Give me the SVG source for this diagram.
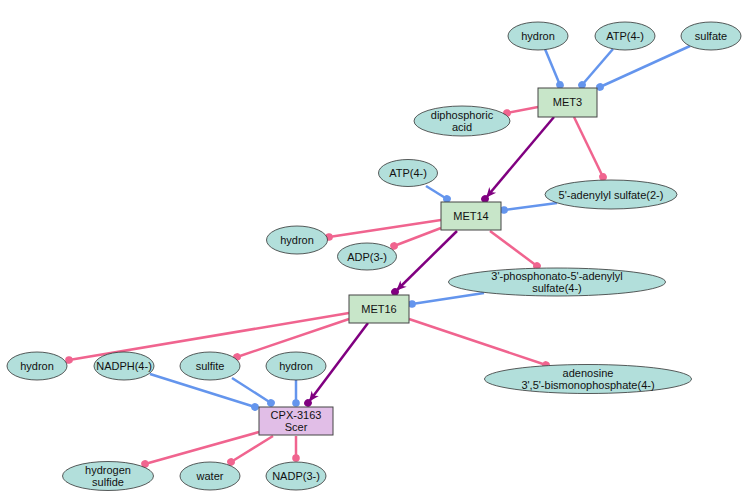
<svg xmlns="http://www.w3.org/2000/svg" width="749" height="502" viewBox="0 0 749 502">
<defs>
<style>
.n ellipse{fill:#b2dfdb;stroke:#333;stroke-width:0.8}
.r rect{fill:#c8e6c9;stroke:#444;stroke-width:1}
.c rect{fill:#e1bee7;stroke:#444;stroke-width:1}
text{font-family:"Liberation Sans",Arial,sans-serif;font-size:11px;fill:#111;text-anchor:middle}
.e line{stroke-width:2.5;fill:none}
.b{stroke:#6495ed;marker-end:url(#db)}
.p{stroke:#f0648f;marker-end:url(#dp)}
.u{stroke:#800080;marker-end:url(#au)}
</style>
<marker id="db" markerUnits="userSpaceOnUse" viewBox="-5 -5 10 10" markerWidth="10" markerHeight="10" refX="0" refY="0" orient="auto"><circle r="3.8" fill="#6495ed"/></marker>
<marker id="dp" markerUnits="userSpaceOnUse" viewBox="-5 -5 10 10" markerWidth="10" markerHeight="10" refX="0" refY="0" orient="auto"><circle r="3.8" fill="#f0648f"/></marker>
<marker id="au" markerUnits="userSpaceOnUse" viewBox="-14 -6 20 12" markerWidth="20" markerHeight="12" refX="0" refY="0" orient="auto"><circle r="3.8" fill="#800080"/><path d="M-2,0 L-12,-4.5 L-9,0 L-12,4.5 Z" fill="#800080"/></marker>
</defs>
<rect width="749" height="502" fill="#fff"/>
<g id="edges" class="e">
<line class="b" x1="545" y1="49" x2="560" y2="85"/>
<line class="b" x1="613" y1="49" x2="582" y2="85"/>
<line class="b" x1="690" y1="46" x2="600" y2="87"/>
<line class="p" x1="538" y1="107" x2="507" y2="113"/>
<line class="p" x1="574" y1="117" x2="603" y2="177"/>
<line class="u" x1="554" y1="117" x2="485" y2="199"/>
<line class="b" x1="426" y1="186" x2="447" y2="199"/>
<line class="b" x1="557" y1="203" x2="504" y2="210"/>
<line class="p" x1="441" y1="220" x2="329" y2="237"/>
<line class="p" x1="441" y1="228" x2="394" y2="246"/>
<line class="p" x1="490" y1="231" x2="537" y2="266"/>
<line class="u" x1="457" y1="231" x2="395" y2="292"/>
<line class="b" x1="484" y1="293" x2="412" y2="304"/>
<line class="p" x1="349" y1="313" x2="69" y2="360"/>
<line class="p" x1="349" y1="319" x2="237" y2="357"/>
<line class="p" x1="409" y1="319" x2="546" y2="365"/>
<line class="u" x1="368" y1="323" x2="308" y2="403"/>
<line class="b" x1="150" y1="374" x2="255" y2="407"/>
<line class="b" x1="232" y1="378" x2="271" y2="403"/>
<line class="b" x1="296" y1="379" x2="296" y2="403"/>
<line class="p" x1="259" y1="432" x2="145" y2="464"/>
<line class="p" x1="273" y1="436" x2="231" y2="462"/>
<line class="p" x1="296" y1="436" x2="296" y2="458"/>
</g>
<g id="hydron1" class="n"><ellipse cx="538" cy="36" rx="30" ry="14"/><text x="538" y="40">hydron</text></g>
<g id="atp1" class="n"><ellipse cx="625" cy="36" rx="30" ry="14"/><text x="625" y="40">ATP(4-)</text></g>
<g id="sulfate" class="n"><ellipse cx="711" cy="36" rx="30" ry="14"/><text x="711" y="40">sulfate</text></g>
<g id="met3" class="r"><rect x="538" y="88" width="59" height="29"/><text x="567.5" y="106">MET3</text></g>
<g id="diphosphoric" class="n"><ellipse cx="462" cy="121" rx="48" ry="15"/><text x="462" y="119">diphosphoric</text><text x="462" y="131">acid</text></g>
<g id="aps" class="n"><ellipse cx="611" cy="194.5" rx="66" ry="14.5"/><text x="611" y="198.5">5'-adenylyl sulfate(2-)</text></g>
<g id="atp2" class="n"><ellipse cx="408" cy="173" rx="29.5" ry="13.5"/><text x="408" y="177">ATP(4-)</text></g>
<g id="met14" class="r"><rect x="441" y="202" width="60" height="28"/><text x="471" y="220">MET14</text></g>
<g id="hydron2" class="n"><ellipse cx="297" cy="240" rx="30.5" ry="14"/><text x="297" y="244">hydron</text></g>
<g id="adp" class="n"><ellipse cx="367" cy="256.5" rx="29.5" ry="13.5"/><text x="367" y="260.5">ADP(3-)</text></g>
<g id="paps" class="n"><ellipse cx="557" cy="282" rx="108.5" ry="14"/><text x="557" y="280">3'-phosphonato-5'-adenylyl</text><text x="557" y="292">sulfate(4-)</text></g>
<g id="met16" class="r"><rect x="349" y="295" width="60" height="28"/><text x="379" y="313">MET16</text></g>
<g id="hydron3" class="n"><ellipse cx="37" cy="366" rx="30" ry="14"/><text x="37" y="370">hydron</text></g>
<g id="nadph" class="n"><ellipse cx="124" cy="366" rx="30" ry="14"/><text x="124" y="370">NADPH(4-)</text></g>
<g id="sulfite" class="n"><ellipse cx="210" cy="366" rx="30" ry="14"/><text x="210" y="370">sulfite</text></g>
<g id="hydron4" class="n"><ellipse cx="296" cy="366" rx="30" ry="14"/><text x="296" y="370">hydron</text></g>
<g id="pap" class="n"><ellipse cx="588" cy="379" rx="103.5" ry="14.5"/><text x="588" y="377">adenosine</text><text x="588" y="389">3',5'-bismonophosphate(4-)</text></g>
<g id="cpx" class="c"><rect x="259" y="407" width="74" height="28"/><text x="296" y="419">CPX-3163</text><text x="296" y="431">Scer</text></g>
<g id="h2s" class="n"><ellipse cx="108" cy="476" rx="45.5" ry="14.5"/><text x="108" y="474">hydrogen</text><text x="108" y="486">sulfide</text></g>
<g id="water" class="n"><ellipse cx="210" cy="476" rx="30" ry="14"/><text x="210" y="480">water</text></g>
<g id="nadp" class="n"><ellipse cx="296" cy="476" rx="30" ry="14"/><text x="296" y="480">NADP(3-)</text></g>
</svg>
